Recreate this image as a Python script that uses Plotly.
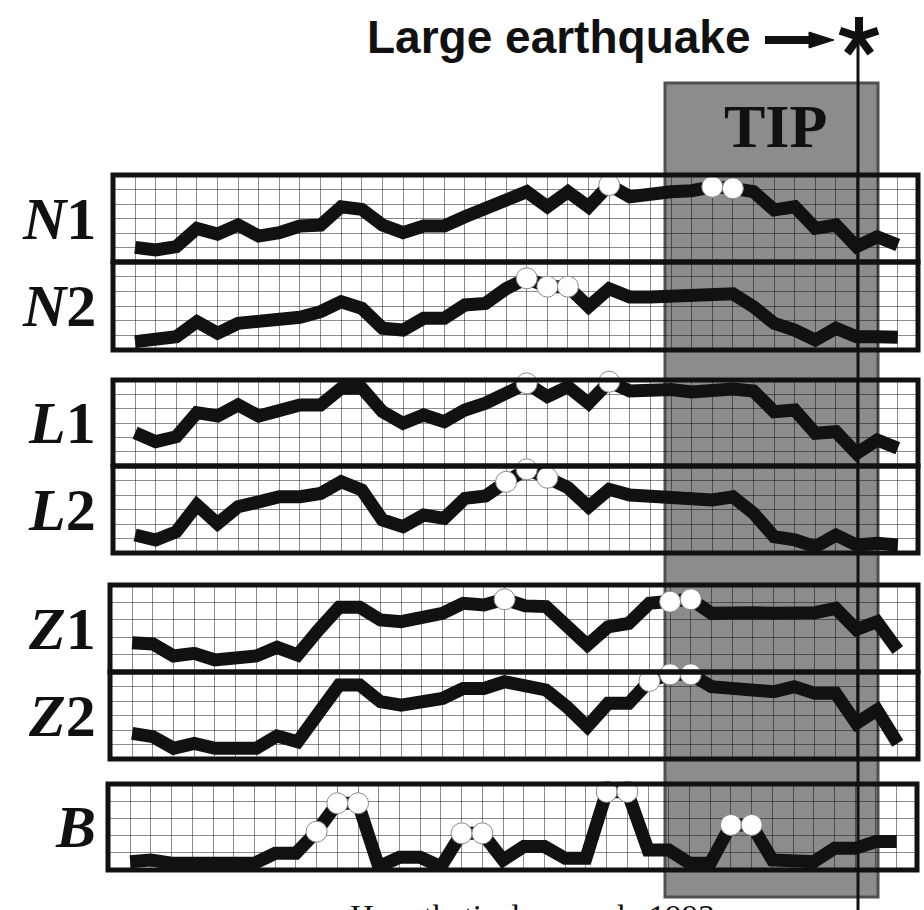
import math
import plotly.graph_objects as go

W, H = 924, 910

# ---------------- data (grid units, one value per time step) ----------------
steps = list(range(38))

n1 = [1.01, 0.83, 1.06, 2.32, 1.93, 2.55, 1.79, 2.02, 2.48, 2.55, 3.81, 3.63, 2.55, 2.02, 2.48, 2.48, 3.12, 3.63, 4.32,
      4.85, 3.81, 4.85, 3.81, 5.31, 4.50, 4.74, 4.85, 4.92, 5.19, 5.08, 4.85, 3.59, 3.81, 2.32, 2.55, 1.06, 1.74, 1.17]
n2 = [0.57, 0.68, 0.91, 1.93, 1.14, 1.82, 1.93, 2.09, 2.23, 2.61, 3.29, 2.84, 1.48, 1.36, 2.16, 2.16, 3.07, 3.18, 4.18,
      4.89, 4.32, 4.32, 2.95, 4.18, 3.61, 3.61, 3.61, 3.61, 3.72, 3.83, 2.95, 1.82, 1.36, 0.68, 1.48, 0.91, 0.91, 0.87]
l1 = [2.32, 1.70, 2.04, 3.72, 3.49, 4.26, 3.49, 3.86, 4.26, 4.26, 5.42, 5.44, 3.79, 2.98, 3.56, 3.09, 3.91, 4.38, 5.19,
      5.77, 4.84, 5.53, 4.38, 5.88, 5.23, 5.33, 5.33, 5.16, 5.37, 5.37, 5.23, 3.79, 3.91, 2.28, 2.39, 0.88, 1.81, 1.24]
l2 = [1.24, 0.90, 1.47, 3.31, 2.03, 3.19, 3.53, 3.88, 3.88, 4.11, 4.91, 4.34, 2.28, 1.81, 2.62, 2.39, 3.77, 3.93, 4.91,
      5.77, 5.19, 4.50, 3.19, 4.39, 4.00, 3.93, 3.77, 3.66, 3.66, 3.88, 2.74, 1.12, 0.90, 0.43, 1.24, 0.55, 0.67, 0.55]
z1 = [1.68, 1.61, 0.92, 1.07, 0.69, 0.73, 0.92, 1.42, 0.98, 2.41, 3.72, 3.72, 2.99, 2.89, 3.09, 3.37, 3.95, 3.85, 4.18,
      3.80, 3.76, 2.70, 1.55, 2.60, 2.79, 3.95, 4.04, 4.18, 3.37, 3.47, 3.41, 3.37, 3.41, 3.41, 3.66, 2.45, 2.89, 1.26]
z2 = [1.77, 1.54, 0.74, 1.08, 0.74, 0.74, 0.74, 1.59, 1.19, 3.15, 5.10, 5.10, 3.95, 3.72, 3.84, 4.18, 4.87, 4.87, 5.33,
      5.10, 4.76, 3.61, 2.23, 3.84, 3.84, 5.38, 5.84, 5.84, 4.99, 4.87, 4.76, 4.64, 4.99, 4.53, 4.53, 2.46, 3.38, 1.08]
b = [0.48, 0.58, 0.39, 0.42, 0.42, 0.39, 0.39, 0.97, 0.97, 2.23, 3.88, 3.88, 0.19, 0.74, 0.74, 0.19, 2.13, 2.13, 0.58,
     1.36, 1.36, 0.68, 0.68, 4.55, 4.55, 1.16, 1.16, 0.39, 0.39, 2.62, 2.62, 0.58, 0.48, 0.48, 1.26, 1.26, 1.65, 1.65]

# time steps flagged with an open circle
n1_marks = [23, 28, 29]
n2_marks = [19, 20, 21]
l1_marks = [19, 23]
l2_marks = [18, 19, 20]
z1_marks = [18, 26, 27]
z2_marks = [25, 26, 27]
b_marks = [9, 10, 11, 16, 17, 23, 24, 29, 30]

labels = ["<b><i>N</i>1</b>", "<b><i>N</i>2</b>", "<b><i>L</i>1</b>", "<b><i>L</i>2</b>",
          "<b><i>Z</i>1</b>", "<b><i>Z</i>2</b>", "<b><i>B</i></b>"]
series = [n1, n2, l1, l2, z1, z2, b]
marks = [n1_marks, n2_marks, l1_marks, l2_marks, z1_marks, z2_marks, b_marks]
grid_rows = [6, 6, 6, 6, 5, 6, 5]

title_text = "Large earthquake"
tip_text = "TIP"
footer_text = "Hypothetical example 1993"

# ---------------- layout geometry (pixels) ----------------
panel_px = [(175, 262), (262, 350), (380, 466), (466, 553), (585, 672), (672, 759), (784, 870)]
panel_x = [(113, 918), (113, 918), (113, 918), (113, 918), (110, 918), (110, 918), (108, 917)]
x_range = [-1.07, 37.98]


def py(p):
    return 1 - p / H


def px(p):
    return p / W


fig = go.Figure()
shapes = []
annotations = []
layout_axes = {}

# TIP window (drawn under grid and data)
shapes.append(dict(type="rect", xref="paper", yref="paper", layer="below",
                   x0=px(665), x1=px(878), y0=py(897), y1=py(83),
                   fillcolor="#8c8c8c", line=dict(color="#505050", width=3)))

for k, (vals, mk, rows, lab) in enumerate(zip(series, marks, grid_rows, labels)):
    idx = "" if k == 0 else str(k + 1)
    xa, ya = "x" + idx, "y" + idx
    top, bot = panel_px[k]
    x0p, x1p = panel_x[k]
    layout_axes["xaxis" + idx] = dict(
        domain=[px(x0p), px(x1p)], range=x_range, anchor=ya,
        showgrid=True, gridcolor="rgba(0,0,0,0.45)", gridwidth=1, dtick=1, tick0=0,
        showticklabels=False, ticks="", zeroline=False, showline=False, fixedrange=True)
    layout_axes["yaxis" + idx] = dict(
        domain=[py(bot), py(top)], range=[0, rows], anchor=xa,
        showgrid=True, gridcolor="rgba(0,0,0,0.45)", gridwidth=1, dtick=1, tick0=0,
        showticklabels=False, ticks="", zeroline=False, showline=False, fixedrange=True)

    fig.add_trace(go.Scatter(x=steps, y=vals, xaxis=xa, yaxis=ya, mode="lines",
                             line=dict(color="#111111", width=13), hoverinfo="skip",
                             showlegend=False))
    fig.add_trace(go.Scatter(x=[steps[i] for i in mk], y=[vals[i] for i in mk], xaxis=xa, yaxis=ya,
                             mode="markers", cliponaxis=False,
                             marker=dict(size=21, color="white", line=dict(color="#8a8a8a", width=1)),
                             hoverinfo="skip", showlegend=False))

    # panel frame
    shapes.append(dict(type="rect", xref=xa + " domain", yref=ya + " domain", layer="above",
                       x0=0, x1=1, y0=0, y1=1, line=dict(color="#111111", width=5)))

    annotations.append(dict(text=lab, xref="paper", yref="paper", x=px(98), y=py((top + bot) / 2),
                            xanchor="right", yanchor="middle", showarrow=False,
                            font=dict(family="Liberation Serif", size=60, color="#111111")))

# earthquake marker: vertical line
shapes.append(dict(type="line", xref="paper", yref="paper", layer="above",
                   x0=px(858), x1=px(858), y0=py(40), y1=py(910),
                   line=dict(color="#111111", width=3)))
# asterisk (5 arms)
cx, cy, arm = 859, 37, 20
for a in range(5):
    ang = math.radians(90 + 72 * a)
    shapes.append(dict(type="line", xref="paper", yref="paper", layer="above",
                       x0=px(cx), y0=py(cy), x1=px(cx + arm * math.cos(ang)), y1=py(cy - arm * math.sin(ang)),
                       line=dict(color="#111111", width=8)))
# arrow
shapes.append(dict(type="line", xref="paper", yref="paper", layer="above",
                   x0=px(765), x1=px(814), y0=py(40), y1=py(40),
                   line=dict(color="#111111", width=8)))
shapes.append(dict(type="path", xref="paper", yref="paper", layer="above",
                   path=f"M {px(809)} {py(32)} L {px(834)} {py(40)} L {px(809)} {py(48)} Z",
                   fillcolor="#111111", line=dict(color="#111111", width=1)))

annotations.append(dict(text="<b>" + title_text + "</b>", xref="paper", yref="paper",
                        x=px(752), y=py(37), xanchor="right", yanchor="middle", showarrow=False,
                        font=dict(family="Liberation Sans", size=46, color="#111111")))
annotations.append(dict(text="<b>" + tip_text + "</b>", xref="paper", yref="paper",
                        x=px(775), y=py(126), xanchor="center", yanchor="middle", showarrow=False,
                        font=dict(family="Liberation Serif", size=62, color="#111111")))
annotations.append(dict(text=footer_text, xref="paper", yref="paper",
                        x=px(348), y=py(897), xanchor="left", yanchor="top", showarrow=False,
                        font=dict(family="Liberation Serif", size=33, color="#111111")))

fig.update_layout(width=W, height=H, margin=dict(l=0, r=0, t=0, b=0),
                  paper_bgcolor="white", plot_bgcolor="rgba(0,0,0,0)",
                  shapes=shapes, annotations=annotations, showlegend=False, **layout_axes)

fig.write_html("out.html", config={"displayModeBar": False},
               post_script="document.body.style.margin='0px';document.body.style.padding='0px';")
